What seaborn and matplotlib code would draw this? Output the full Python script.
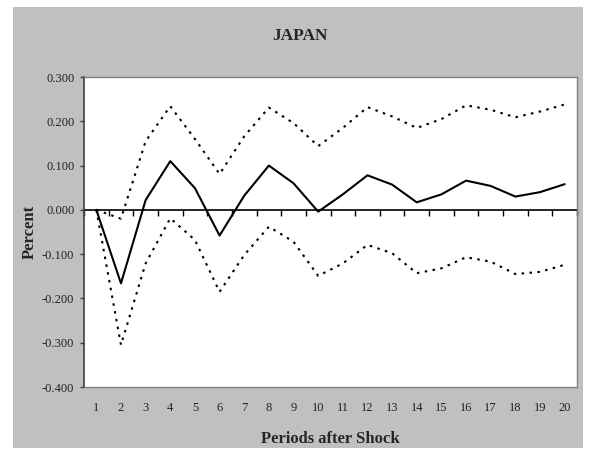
import numpy as np
import pandas as pd
import matplotlib
matplotlib.use("Agg")
import matplotlib.pyplot as plt
import seaborn as sns
from matplotlib.patches import Rectangle

# Impulse response with confidence bands
periods = list(range(1, 21))
response = [0.000, -0.166, 0.022, 0.110, 0.049, -0.058, 0.032, 0.100, 0.060, -0.004,
            0.035, 0.078, 0.057, 0.017, 0.035, 0.066, 0.054, 0.030, 0.040, 0.058]
upper = [0.000, -0.020, 0.155, 0.234, 0.160, 0.081, 0.166, 0.231, 0.196, 0.144,
         0.185, 0.232, 0.211, 0.185, 0.205, 0.236, 0.226, 0.209, 0.222, 0.238]
lower = [0.000, -0.305, -0.121, -0.019, -0.068, -0.185, -0.102, -0.038, -0.072, -0.149,
         -0.121, -0.079, -0.098, -0.143, -0.132, -0.107, -0.117, -0.145, -0.140, -0.124]
y_ticks = [-0.4, -0.3, -0.2, -0.1, 0.0, 0.1, 0.2, 0.3]

df = pd.DataFrame({"period": periods, "response": response,
                   "upper": upper, "lower": lower})

sns.set_theme(style="white")
plt.rcParams["font.family"] = ["Liberation Serif", "DejaVu Serif"]

W, H = 592, 455
fig = plt.figure(figsize=(W / 100, H / 100), dpi=100)
fig.patch.set_facecolor("white")

# grey chart area
fig.add_artist(Rectangle((13 / W, 1 - 448 / H), 570 / W, 441 / H,
                         transform=fig.transFigure, facecolor="#C0C0C0",
                         edgecolor="none", zorder=0))

ax = fig.add_axes([84 / W, 1 - 387 / H, (577 - 84) / W, (387 - 77) / H])
ax.set_facecolor("white")

dot = (0, (1.2, 2.6))
sns.lineplot(data=df, x="period", y="upper", ax=ax, color="black",
             linewidth=1.5, linestyle=dot, zorder=3)
sns.lineplot(data=df, x="period", y="lower", ax=ax, color="black",
             linewidth=1.5, linestyle=dot, zorder=3)
sns.lineplot(data=df, x="period", y="response", ax=ax, color="black",
             linewidth=1.5, zorder=4)

ax.set_xlim(0.5, 20.5)
ax.set_ylim(-0.4, 0.3)
ax.set_yticks(y_ticks)
ax.set_yticklabels([f"{v:.3f}" for v in y_ticks])
ax.set_xticks(periods)
ax.set_xticklabels([str(p) for p in periods])

for side in ["top", "right", "bottom"]:
    ax.spines[side].set_color("#808080")
    ax.spines[side].set_linewidth(1.0)
ax.spines["left"].set_color("#404040")
ax.spines["left"].set_linewidth(1.2)

ax.tick_params(axis="y", which="major", direction="out", length=3, width=1,
               color="#404040", pad=4, labelsize=9, labelcolor="#222222", left=True)
ax.tick_params(axis="x", which="major", length=0, pad=11, labelsize=9,
               labelcolor="#222222")

# category axis crossing at zero, with ticks between categories pointing down
zero_loc = (0 - (-0.4)) / (0.3 - (-0.4))
sec = ax.secondary_xaxis(zero_loc)
sec.set_xticks(np.arange(0.5, 21, 1))
sec.set_xticklabels([])
sec.xaxis.set_ticks_position("top")
for side in ["top", "bottom"]:
    sec.spines[side].set_color("black")
    sec.spines[side].set_linewidth(1.2)
sec.tick_params(axis="x", which="both", direction="in", length=4, width=1,
                color="black", top=True, bottom=False)

ax.set_xlabel("Periods after Shock", fontsize=12, fontweight="bold", labelpad=12)
ax.set_ylabel("Percent", fontsize=12, fontweight="bold", labelpad=3)

fig.text(300 / W, 1 - 36 / H, "JAPAN", ha="center", va="center",
         fontsize=12.5, fontweight="bold")

fig.savefig("out.png", dpi=100)
